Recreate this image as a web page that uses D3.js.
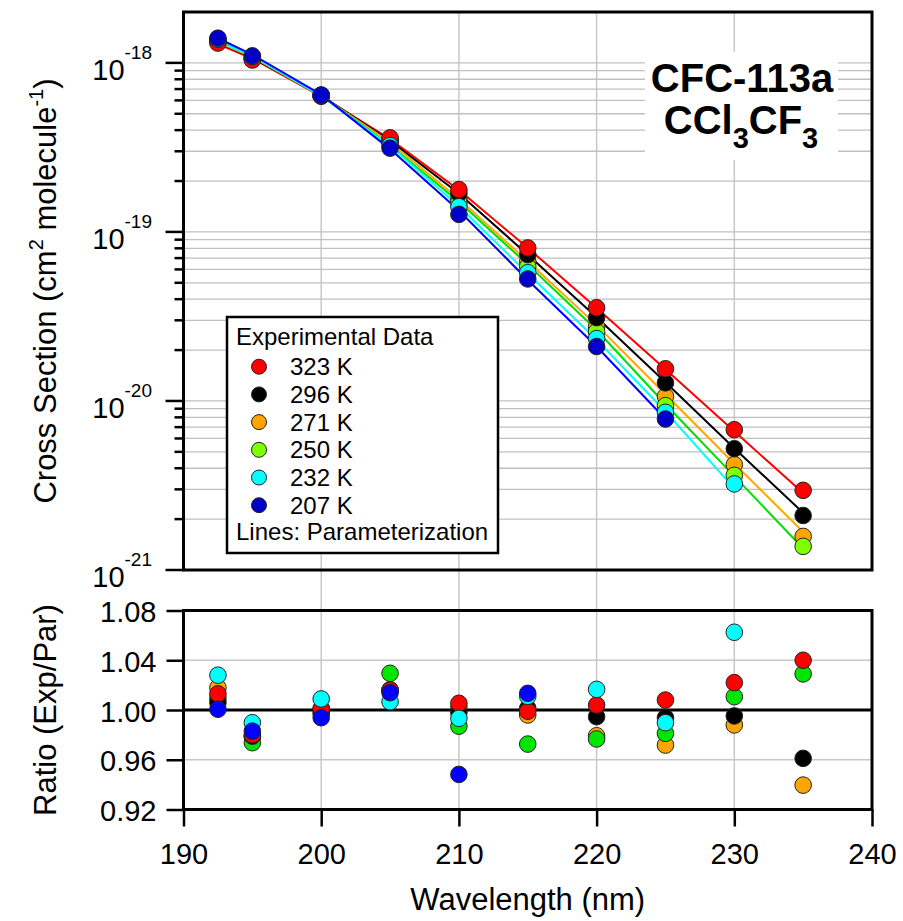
<html>
<head>
<script src="https://d3js.org/d3.v7.min.js"></script>
<style>
    body { margin: 0; background: #fff; }
    text { font-family: 'Liberation Sans', Arial, sans-serif; fill: #000; }
</style>
</head>
<body>
<div id="chart"></div>
<script>
    // ---- data ----
    var wavelengths = [192.5, 195, 200, 205, 210, 215, 220, 225, 230, 235];
    var temps = ["323 K", "296 K", "271 K", "250 K", "232 K", "207 K"];

    // measured cross sections (cm2 molecule-1)
    var cs323 = [1.31e-18, 1.04e-18, 6.35e-19, 3.60e-19, 1.78e-19, 8.04e-20, 3.56e-20, 1.55e-20, 6.76e-21, 2.96e-21];
    var cs296 = [1.33e-18, 1.05e-18, 6.38e-19, 3.52e-19, 1.69e-19, 7.34e-20, 3.11e-20, 1.28e-20, 5.22e-21, 2.10e-21];
    var cs271 = [1.35e-18, 1.06e-18, 6.40e-19, 3.44e-19, 1.57e-19, 6.67e-20, 2.75e-20, 1.065e-20, 4.20e-21, 1.58e-21];
    var cs250 = [1.36e-18, 1.07e-18, 6.42e-19, 3.36e-19, 1.49e-19, 6.23e-20, 2.57e-20, 9.38e-21, 3.63e-21, 1.38e-21];
    var cs232 = [1.38e-18, 1.09e-18, 6.44e-19, 3.24e-19, 1.41e-19, 5.74e-20, 2.34e-20, 8.57e-21, 3.23e-21, null];
    var cs207 = [1.40e-18, 1.10e-18, 6.45e-19, 3.13e-19, 1.27e-19, 5.27e-20, 2.10e-20, 7.82e-21, null, null];

    // parameterization curves
    var par323 = [1.293e-18, 1.061e-18, 6.34e-19, 3.54e-19, 1.77e-19, 8.05e-20, 3.55e-20, 1.54e-20, 6.61e-21, 2.85e-21];
    var par296 = [1.322e-18, 1.073e-18, 6.40e-19, 3.46e-19, 1.69e-19, 7.33e-20, 3.13e-20, 1.29e-20, 5.25e-21, 2.18e-21];
    var par271 = [1.326e-18, 1.083e-18, 6.39e-19, 3.39e-19, 1.567e-19, 6.70e-20, 2.81e-20, 1.096e-20, 4.25e-21, 1.68e-21];
    var par250 = [1.347e-18, 1.099e-18, 6.43e-19, 3.26e-19, 1.51e-19, 6.41e-20, 2.63e-20, 9.56e-21, 3.59e-21, 1.34e-21];
    var par232 = [1.342e-18, 1.101e-18, 6.38e-19, 3.22e-19, 1.42e-19, 5.68e-20, 2.30e-20, 8.66e-21, 3.04e-21, null];
    var par207 = [1.399e-18, 1.119e-18, 6.49e-19, 3.09e-19, 1.34e-19, 5.20e-20, 2.10e-20, 7.82e-21, null, null];

    // ratio Exp/Par
    var r323 = [1.013, 0.980, 1.001, 1.016, 1.0054, 0.999, 1.004, 1.008, 1.022, 1.040];
    var r296 = [1.006, 0.979, 0.997, 1.016, 0.998, 1.0014, 0.9946, 0.9938, 0.9952, 0.9611];
    var r271 = [1.018, 0.9785, 1.001, 1.016, 1.002, 0.996, 0.9793, 0.9718, 0.988, 0.9396];
    var r250 = [1.0094, 0.9737, 0.999, 1.0295, 0.987, 0.9726, 0.9767, 0.9812, 1.0107, 1.029];
    var r232 = [1.028, 0.9898, 1.0089, 1.0067, 0.9933, 1.011, 1.0166, 0.9898, 1.0625, null];
    var r207 = [1.0006, 0.983, 0.9938, 1.0139, 0.9482, 1.0134, null, null, null, null];

    var xTicks = [190, 200, 210, 220, 230, 240];
    var ratioTicks = [0.92, 0.96, 1.00, 1.04, 1.08];
    var decadeTicks = [1e-21, 1e-20, 1e-19, 1e-18];

    // colours: marker (top), marker (ratio), line
    var topColors = ["#ff0000", "#000000", "#ffa500", "#80ff00", "#00ffff", "#0000c8"];
    var ratioColors = ["#ff0000", "#000000", "#ffa500", "#00e600", "#00ffff", "#0000ff"];
    var lineColors = ["#ff0000", "#000000", "#ffa500", "#00e000", "#00ffff", "#0000ff"];

    var series = [
        {name: temps[0], cs: cs323, par: par323, ratio: r323, i: 0},
        {name: temps[1], cs: cs296, par: par296, ratio: r296, i: 1},
        {name: temps[2], cs: cs271, par: par271, ratio: r271, i: 2},
        {name: temps[3], cs: cs250, par: par250, ratio: r250, i: 3},
        {name: temps[4], cs: cs232, par: par232, ratio: r232, i: 4},
        {name: temps[5], cs: cs207, par: par207, ratio: r207, i: 5}
    ];
    // order the markers get painted in
    var drawOrder = [2, 3, 1, 0, 4, 5];

    var width = 903, height = 921;
    var left = 183.5, right = 872;
    var topY0 = 12, topY1 = 570;      // upper panel
    var botY0 = 610.5, botY1 = 809.5; // ratio panel

    var x = d3.scaleLinear().domain([190, 240]).range([left, right]);
    var yTop = d3.scaleLog().domain([1e-21, 2e-18]).range([topY1, topY0]);
    var yBot = d3.scaleLinear().domain([0.92, 1.08]).range([botY1, botY0]);

    var svg = d3.select("#chart").append("svg")
        .attr("width", width)
        .attr("height", height);

    // vertical grid runs through both panels
    svg.append("g").selectAll("line")
        .data([200, 210, 220, 230])
        .enter().append("line")
        .attr("x1", function(d){ return x(d); })
        .attr("x2", function(d){ return x(d); })
        .attr("y1", topY0).attr("y2", botY1)
        .attr("stroke", "#c8c8c8").attr("stroke-width", 1.5);

    // horizontal grid, upper panel (every log tick)
    var logTicks = yTop.ticks().filter(function(d){ return d > 1.01e-21 && d < 1.99e-18; });
    svg.append("g").selectAll("line")
        .data(logTicks)
        .enter().append("line")
        .attr("x1", left).attr("x2", right)
        .attr("y1", function(d){ return yTop(d); })
        .attr("y2", function(d){ return yTop(d); })
        .attr("stroke", "#c0c0c0").attr("stroke-width", 1.3);

    // horizontal grid, ratio panel
    svg.append("g").selectAll("line")
        .data([0.96, 1.04])
        .enter().append("line")
        .attr("x1", left).attr("x2", right)
        .attr("y1", function(d){ return yBot(d); })
        .attr("y2", function(d){ return yBot(d); })
        .attr("stroke", "#c8c8c8").attr("stroke-width", 1.5);
    svg.append("line")
        .attr("x1", left).attr("x2", right)
        .attr("y1", yBot(1)).attr("y2", yBot(1))
        .attr("stroke", "#000").attr("stroke-width", 3);

    // title box
    svg.append("rect")
        .attr("x", 645).attr("y", 52).attr("width", 193).attr("height", 108)
        .attr("fill", "#fff");
    svg.append("text")
        .attr("x", 742).attr("y", 92)
        .attr("text-anchor", "middle")
        .style("font-size", "40px").style("font-weight", "bold")
        .text("CFC-113a");
    var f = svg.append("text")
        .attr("x", 741).attr("y", 134)
        .attr("text-anchor", "middle")
        .style("font-size", "40px").style("font-weight", "bold");
    f.append("tspan").text("CCl");
    f.append("tspan").attr("dy", 14).style("font-size", "29px").text("3");
    f.append("tspan").attr("dy", -14).text("CF");
    f.append("tspan").attr("dy", 14).style("font-size", "29px").text("3");

    // parameterization lines
    var line = d3.line()
        .defined(function(d){ return d[1] != null; })
        .x(function(d){ return x(d[0]); })
        .y(function(d){ return yTop(d[1]); });

    svg.append("g").selectAll("path")
        .data(series)
        .enter().append("path")
        .attr("d", function(s){ return line(wavelengths.map(function(w, k){ return [w, s.par[k]]; })); })
        .attr("fill", "none")
        .attr("stroke", function(s){ return lineColors[s.i]; })
        .attr("stroke-width", 2);

    // experimental points
    var topG = svg.append("g");
    var botG = svg.append("g");
    drawOrder.forEach(function(si){
        var s = series[si];
        var pts = wavelengths.map(function(w, k){ return {w: w, cs: s.cs[k], r: s.ratio[k]}; });
        topG.selectAll(null)
            .data(pts.filter(function(p){ return p.cs != null; }))
            .enter().append("circle")
            .attr("cx", function(p){ return x(p.w); })
            .attr("cy", function(p){ return yTop(p.cs); })
            .attr("r", 8.3)
            .attr("fill", topColors[s.i])
            .attr("stroke", "#222").attr("stroke-width", 1);
        botG.selectAll(null)
            .data(pts.filter(function(p){ return p.r != null; }))
            .enter().append("circle")
            .attr("cx", function(p){ return x(p.w); })
            .attr("cy", function(p){ return yBot(p.r); })
            .attr("r", 8.3)
            .attr("fill", ratioColors[s.i])
            .attr("stroke", "#222").attr("stroke-width", 1);
    });

    // legend
    var lg = svg.append("g");
    lg.append("rect")
        .attr("x", 227).attr("y", 317).attr("width", 271).attr("height", 236)
        .attr("fill", "#fff").attr("stroke", "#000").attr("stroke-width", 2.5);
    lg.append("text").attr("x", 236).attr("y", 345)
        .style("font-size", "24px").text("Experimental Data");
    series.forEach(function(s, k){
        var cy = 366.7 + k * 27.7;
        lg.append("circle")
            .attr("cx", 259).attr("cy", cy).attr("r", 7.5)
            .attr("fill", topColors[s.i])
            .attr("stroke", "#222").attr("stroke-width", 1);
        lg.append("text").attr("x", 290).attr("y", cy + 8.5)
            .style("font-size", "24px").text(s.name);
    });
    lg.append("text").attr("x", 236).attr("y", 540)
        .style("font-size", "24px").text("Lines: Parameterization");

    // frames
    svg.append("rect")
        .attr("x", left).attr("y", topY0).attr("width", right - left).attr("height", topY1 - topY0)
        .attr("fill", "none").attr("stroke", "#000").attr("stroke-width", 3);
    svg.append("rect")
        .attr("x", left).attr("y", botY0).attr("width", right - left).attr("height", botY1 - botY0)
        .attr("fill", "none").attr("stroke", "#000").attr("stroke-width", 3);

    // upper y axis: log ticks drawn by hand, superscript labels
    var allLog = yTop.ticks().filter(function(d){ return d < 1.99e-18; });
    svg.append("g").selectAll("line")
        .data(allLog)
        .enter().append("line")
        .attr("x1", function(d){ return decadeTicks.indexOf(d) >= 0 ? left - 18 : left - 9; })
        .attr("x2", left)
        .attr("y1", function(d){ return yTop(d); })
        .attr("y2", function(d){ return yTop(d); })
        .attr("stroke", "#000").attr("stroke-width", 2.5);
    decadeTicks.forEach(function(d){
        var t = svg.append("text")
            .attr("x", 152).attr("y", yTop(d) + 16.7)
            .attr("text-anchor", "end")
            .style("font-size", "29px");
        t.append("tspan").text("10");
        t.append("tspan").attr("dy", -20.7).style("font-size", "19px")
            .text("-" + Math.round(-Math.log10(d)));
    });

    // ratio y axis
    var ya = svg.append("g")
        .attr("transform", "translate(" + left + ",0)")
        .call(d3.axisLeft(yBot).tickValues(ratioTicks).tickFormat(d3.format(".2f")).tickSize(17).tickPadding(10));
    ya.select(".domain").remove();
    ya.selectAll("line").attr("stroke-width", 2.5);
    ya.selectAll("text").style("font-size", "29px").attr("font-family", null).attr("dy", "0.38em");

    // x axis
    var xa = svg.append("g")
        .attr("transform", "translate(0," + botY1 + ")")
        .call(d3.axisBottom(x).tickValues(xTicks).tickFormat(d3.format("d")).tickSize(17).tickPadding(17));
    xa.select(".domain").remove();
    xa.selectAll("line").attr("stroke-width", 2.5);
    xa.selectAll("text").style("font-size", "29px").attr("font-family", null);

    // axis titles
    svg.append("text")
        .attr("x", (left + right) / 2).attr("y", 910)
        .attr("text-anchor", "middle")
        .style("font-size", "31px")
        .text("Wavelength (nm)");

    svg.append("text")
        .attr("transform", "translate(56," + ((botY0 + botY1) / 2) + ") rotate(-90)")
        .attr("text-anchor", "middle")
        .style("font-size", "31px")
        .text("Ratio (Exp/Par)");

    var yt = svg.append("text")
        .attr("transform", "translate(56," + ((topY0 + topY1) / 2) + ") rotate(-90)")
        .attr("text-anchor", "middle")
        .style("font-size", "31px");
    yt.append("tspan").text("Cross Section (cm");
    yt.append("tspan").attr("dy", -13).style("font-size", "20px").text("2");
    yt.append("tspan").attr("dy", 13).text(" molecule");
    yt.append("tspan").attr("dy", -13).style("font-size", "20px").text("-1");
    yt.append("tspan").attr("dy", 13).text(")");
</script>
</body>
</html>
